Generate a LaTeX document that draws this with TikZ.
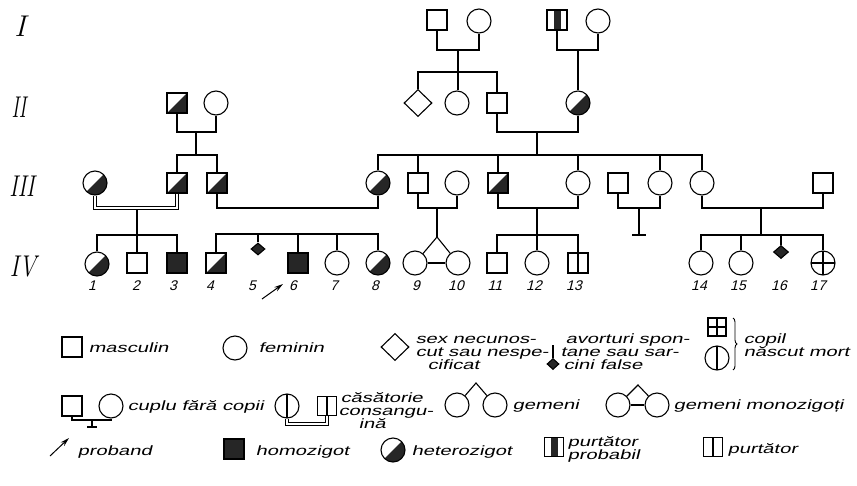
\documentclass[tikz,border=0pt]{standalone}
\usepackage{fontspec}
\usetikzlibrary{shapes.geometric,arrows.meta,decorations.pathreplacing}
\newfontfamily\lett[FakeStretch=1.5,FakeSlant=0.25]{Liberation Sans}
\newfontfamily\numf[FakeSlant=0.25]{Liberation Sans}

\tikzset{
  male/.style={draw, rectangle, minimum size=20pt, inner sep=0pt},
  female/.style={draw, circle, minimum size=24pt, inner sep=0pt},
  unknown/.style={draw, diamond, minimum width=28pt, minimum height=27pt, inner sep=0pt},
  abortion/.style={draw, fill=black!85, diamond, minimum width=14pt, minimum height=12pt, inner sep=0pt},
  het/.style={path picture={\fill[black!85] (path picture bounding box.north east) -- (path picture bounding box.south east) -- (path picture bounding box.south west) -- cycle;}},
  homo/.style={fill=black!85},
  probable/.style={path picture={\fill[black!85] ([xshift=-3.5pt]path picture bounding box.north) rectangle ([xshift=3.5pt]path picture bounding box.south);}},
  carrier/.style={path picture={\draw (path picture bounding box.north) -- (path picture bounding box.south);}},
  stillborn/.style={path picture={\draw (path picture bounding box.north) -- (path picture bounding box.south) (path picture bounding box.west) -- (path picture bounding box.east);}},
  consang/.style={double, double distance=1.6pt, line width=0.8pt},
  legtext/.style={anchor=base west, inner sep=0pt, font=\lett\fontsize{13.5}{11}\selectfont},
  num/.style={anchor=base, inner sep=0pt, font=\numf\fontsize{14}{14}\selectfont},
  gen/.style={inner sep=0pt, font=\fontsize{30}{30}\selectfont\itshape},
  probarrow/.style={-{Stealth[length=9pt,width=5pt]}, line width=1pt},
}

\begin{document}
\begin{tikzpicture}[x=1pt,y=-1pt,line width=1.1pt]
\useasboundingbox[fill=white] (0,0) rectangle (857,485);

% generation labels
\node[gen] (gI) at (20,26) {I};
\node[gen] (gII) at (19,107) {\scalebox{0.65}[1]{II}};
\node[gen] (gIII) at (22,186) {\scalebox{0.75}[1]{III}};
\node[gen] (gIV) at (23,267) {\scalebox{0.8}[1]{IV}};

% ---------- generation I ----------
\node[male] (I1) at (437,20) {};
\node[female] (I2) at (479,21) {};
\node[male,probable] (I3) at (557,20) {};
\node[female] (I4) at (598,21) {};

% ---------- generation II ----------
\node[male,het] (II1) at (177,103) {};
\node[female] (II2) at (216,103) {};
\node[unknown] (II3) at (418,103) {};
\node[female] (II4) at (457,103) {};
\node[male] (II5) at (497,103) {};
\node[female,het] (II6) at (578,103) {};

% ---------- generation III ----------
\node[female,het] (III1) at (95,183) {};
\node[male,het] (III2) at (177,183) {};
\node[male,het] (III3) at (217,183) {};
\node[female,het] (III4) at (378,183) {};
\node[male] (III5) at (418,183) {};
\node[female] (III6) at (457,183) {};
\node[male,het] (III7) at (498,183) {};
\node[female] (III8) at (578,183) {};
\node[male] (III9) at (618,183) {};
\node[female] (III10) at (660,183) {};
\node[female] (III11) at (702,183) {};
\node[male] (III12) at (823,183) {};

% ---------- generation IV ----------
\node[female,het] (IV1) at (97,264) {};
\node[male] (IV2) at (137,263) {};
\node[male,homo] (IV3) at (177,263) {};
\node[male,het] (IV4) at (216,263) {};
\node[abortion] (IV5) at (258,249) {};
\node[male,homo] (IV6) at (298,263) {};
\node[female] (IV7) at (337,263) {};
\node[female,het] (IV8) at (378,263) {};
\node[female] (IV9) at (415,263) {};
\node[female] (IV10) at (458,263) {};
\node[male] (IV11) at (497,263) {};
\node[female] (IV12) at (537,263) {};
\node[male,carrier] (IV13) at (578,263) {};
\node[female] (IV14) at (701,263) {};
\node[female] (IV15) at (741,263) {};
\node[abortion,minimum width=15pt,minimum height=13pt] (IV16) at (781,252) {};
\node[female,stillborn] (IV17) at (823,263) {};

% individual numbers
\foreach \n/\x in {1/92,2/136,3/173,4/210,5/252,6/293,7/334,8/375,9/416,10/456,11/495,12/534,13/574,14/699,15/738,16/779,17/818}
  \node[num] (n\n) at (\x,290) {\n};

% ---------- connectors I -> II ----------
\coordinate (mI12) at (458,50);
\coordinate (mI34) at (578,50);
\coordinate (sII) at (458,72);
\draw (I1.south) |- (mI12) -| (I2.south);
\draw (I3.south) |- (mI34) -| (I4.south);
\draw (mI34) -- (mI34 |- II6.north);
\draw (mI12) -- (mI12 |- II4.north);
\draw (II3.north) |- (sII) -| (II5.north);

% ---------- connectors II -> III ----------
\coordinate (mII12) at (196,132);
\coordinate (sIIIa) at (196,155);
\draw (II1.south) |- (mII12) -| (II2.south);
\draw (mII12) -- (sIIIa);
\draw (III2.north) |- (sIIIa) -| (III3.north);

\coordinate (mII56) at (537,132);
\coordinate (sIIIb) at (537,155);
\draw (II5.south) |- (mII56) -| (II6.south);
\draw (mII56) -- (sIIIb);
\draw (III4.north) |- (sIIIb) -| (III11.north);
\foreach \c in {III5,III7,III8,III10}
  \draw (\c.north) -- (\c.north |- sIIIb);

% ---------- connectors III -> IV ----------
% consanguineous couple
\coordinate (mIII12) at (137,208);
\coordinate (sIVa) at (137,235);
\draw (mIII12) -- (sIVa);
\draw[consang] (III1.south) |- (mIII12) -| (III2.south);
\draw (IV1.north) |- (sIVa) -| (IV3.north);
\draw (IV2.north) -- (IV2.north |- sIVa);

\coordinate (mIII34) at (297,208);
\coordinate (sIVb) at (297,234);
\draw (III3.south) |- (mIII34) -| (III4.south);
\draw (IV4.north) |- (sIVb) -| (IV8.north);
\foreach \c in {IV5,IV6,IV7}
  \draw (\c.north) -- (\c.north |- sIVb);

% twins
\coordinate (mIII56) at (437,208);
\coordinate (tw) at (437,237);
\draw (III5.south) |- (mIII56) -| (III6.south);
\draw (mIII56) -- (tw);
\draw (IV9) -- (tw) -- (IV10);
\draw (IV9) -- (IV10);

\coordinate (mIII78) at (537,208);
\coordinate (sIVc) at (537,235);
\draw (III7.south) |- (mIII78) -| (III8.south);
\draw (mIII78) -- (IV12.north);
\draw (IV11.north) |- (sIVc) -| (IV13.north);

% couple without children
\coordinate (mIII910) at (639,208);
\coordinate (nc) at (639,235);
\coordinate (ncl) at (632,235);
\coordinate (ncr) at (646,235);
\draw (III9.south) |- (mIII910) -| (III10.south);
\draw (mIII910) -- (nc);
\draw (ncl) -- (ncr);

\coordinate (mIII1112) at (761,208);
\coordinate (sIVd) at (761,235);
\draw (III11.south) |- (mIII1112) -| (III12.south);
\draw (mIII1112) -- (sIVd);
\draw (IV14.north) |- (sIVd) -| (IV17.north);
\foreach \c in {IV15,IV16}
  \draw (\c.north) -- (\c.north |- sIVd);

% proband
\coordinate (pa) at (262,299);
\coordinate (pb) at (283,284);
\draw[probarrow] (pa) -- (pb);

% ---------- key ----------
\node[male] (Lm) at (72,347) {};
\node[legtext] (Tm) at (88,352) {masculin};
\node[female] (Lf) at (235,348) {};
\node[legtext] (Tf) at (258,352) {feminin};
\node[unknown] (Lu) at (395,347) {};
\node[legtext] (Tu1) at (415,343) {sex necunos-};
\node[legtext] (Tu2) at (415,356) {cut sau nespe-};
\node[legtext] (Tu3) at (427,369) {cificat};
\node[abortion,minimum width=12pt,minimum height=11pt] (La) at (553,364) {};
\coordinate (Lat) at (553,345);
\draw (Lat) -- (La.north);
\node[legtext] (Ta1) at (565,343) {avorturi spon-};
\node[legtext] (Ta2) at (560,356) {tane sau sar-};
\node[legtext] (Ta3) at (563,369) {cini false};
\node[male,stillborn,minimum size=18pt] (Ls1) at (717,327) {};
\node[female,carrier] (Ls2) at (717,358) {};
\coordinate (br1) at (733,318);
\coordinate (br2) at (733,370);
\draw[line width=0.9pt,decorate,decoration={brace,amplitude=4pt}] (br1) -- (br2);
\node[legtext] (Ts1) at (743,343) {copil};
\node[legtext] (Ts2) at (743,356) {născut mort};

\node[male] (Lc1) at (72,406) {};
\node[female] (Lc2) at (111,406) {};
\coordinate (Lcm) at (92,420);
\coordinate (Lcb) at (92,427);
\coordinate (Lcbl) at (87,427);
\coordinate (Lcbr) at (97,427);
\draw (Lc1.south) |- (Lcm) -| (Lc2.south);
\draw (Lcm) -- (Lcb);
\draw (Lcbl) -- (Lcbr);
\node[legtext] (Tc) at (127,410) {cuplu fără copii};

\node[female,carrier] (Lk1) at (287,406) {};
\node[male,carrier,minimum size=19pt] (Lk2) at (327,406) {};
\coordinate (Lkm) at (307,424);
\draw[consang] (Lk1.south) |- (Lkm) -| (Lk2.south);
\node[legtext] (Tk1) at (340,402) {căsătorie};
\node[legtext] (Tk2) at (338,415) {consangu-};
\node[legtext] (Tk3) at (358,428) {ină};

\node[female] (Lg1) at (457,405) {};
\node[female] (Lg2) at (495,405) {};
\coordinate (Lga) at (476,383);
\draw (Lg1) -- (Lga) -- (Lg2);
\node[legtext] (Tg) at (512,409) {gemeni};

\node[female] (Lz1) at (618,405) {};
\node[female] (Lz2) at (657,405) {};
\coordinate (Lza) at (638,385);
\draw (Lz1) -- (Lza) -- (Lz2);
\draw (Lz1) -- (Lz2);
\node[legtext] (Tz) at (673,409) {gemeni monozigoți};

\coordinate (Lpa) at (50,456);
\coordinate (Lpb) at (69,438);
\draw[probarrow] (Lpa) -- (Lpb);
\node[legtext] (Tp) at (77,455) {proband};
\node[male,homo] (Lho) at (234,449) {};
\node[legtext] (Tho) at (255,455) {homozigot};
\node[female,het] (Lhe) at (393,450) {};
\node[legtext] (The) at (411,455) {heterozigot};
\node[male,probable,minimum size=19pt] (Lpp) at (554,447) {};
\node[legtext] (Tpp1) at (567,446) {purtător};
\node[legtext] (Tpp2) at (567,459) {probabil};
\node[male,carrier,minimum size=19pt] (Lpc) at (713,447) {};
\node[legtext] (Tpc) at (727,453) {purtător};
\end{tikzpicture}
\end{document}
